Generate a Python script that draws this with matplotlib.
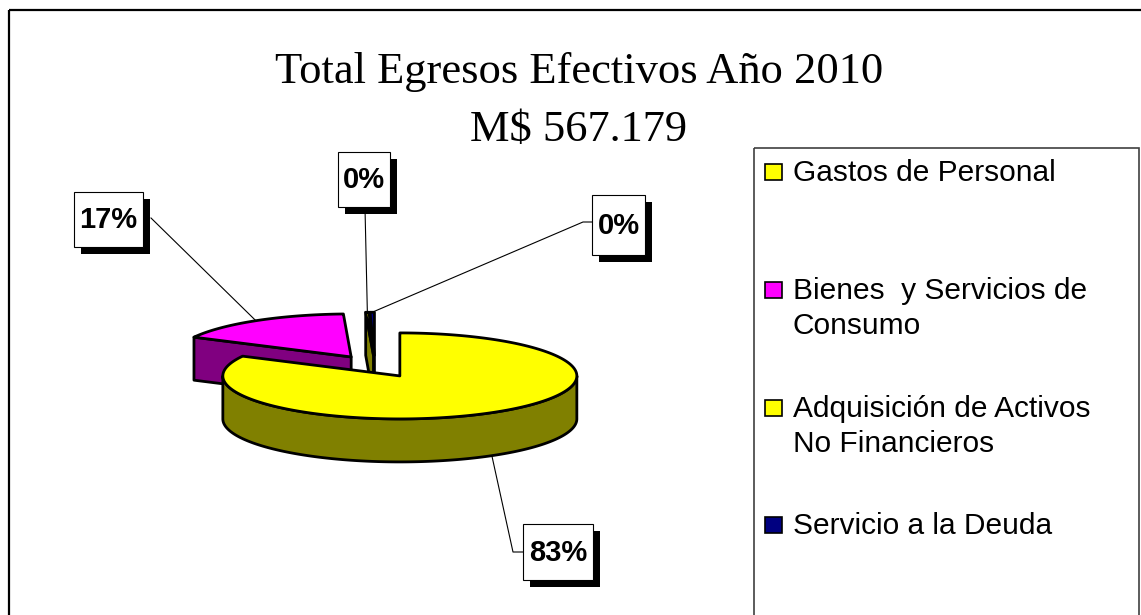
import numpy as np
import matplotlib
matplotlib.use("Agg")
import matplotlib.pyplot as plt
from matplotlib.patches import Polygon, Rectangle

# ---------------- data ----------------
categories = ["Gastos de Personal",
              "Bienes  y Servicios de\nConsumo",
              "Adquisición de Activos\nNo Financieros",
              "Servicio a la Deuda"]
values = [82.6, 16.7, 0.3, 0.4]          # share of total expenses, %
title_lines = ["Total Egresos Efectivos Año 2010", "M$ 567.179"]

# ---------------- style ----------------
top_colors = ["#FFFF00", "#FF00FF", "#FFFF00", "#000080"]
side_colors = ["#808000", "#800080", "#808000", "#000040"]
explode = [0.27, 0.25, 0.25, 0.25]

W, H = 1141, 615
fig = plt.figure(figsize=(W / 100, H / 100), dpi=100)
ax = fig.add_axes([0, 0, 1, 1])
ax.set_xlim(0, W)
ax.set_ylim(H, 0)
ax.axis("off")

# outer chart frame (right/bottom edges fall outside the picture)
ax.add_patch(Rectangle((8.5, 9.5), 1300, 800, fill=False, ec="black", lw=1.6))

# title
ax.text(579, 83, title_lines[0], ha="center", va="baseline",
        family="Liberation Serif", fontsize=32)
ax.text(579, 141, title_lines[1], ha="center", va="baseline",
        family="Liberation Serif", fontsize=32)

# ---------------- 3D pie ----------------
CX, CY = 375.0, 366.0   # pie centre (pixels)
A, B = 177.0, 43.0      # ellipse semi-axes
DEPTH = 43.0
EDGE_LW = 2.0

total = float(sum(values))
starts, ends = [], []
ang = 90.0
for v in values:
    starts.append(ang)
    ang -= 360.0 * v / total
    ends.append(ang)


def pt(cx, cy, th):
    r = np.radians(th)
    return cx + A * np.cos(r), cy - B * np.sin(r)


def arc(cx, cy, t1, t2, n=None):
    if n is None:
        n = max(3, int(abs(t1 - t2)) * 2)
    th = np.radians(np.linspace(t1, t2, n))
    return cx + A * np.cos(th), cy - B * np.sin(th)


slices = []
for i in range(len(values)):
    t1, t2 = starts[i], ends[i]
    mid = 0.5 * (t1 + t2)
    dx = explode[i] * A * np.cos(np.radians(mid))
    dy = -explode[i] * B * np.sin(np.radians(mid))
    slices.append((i, t1, t2, mid, CX + dx, CY + dy))

# draw back-to-front
label_anchor = {}
for (i, t1, t2, mid, ax0, ay0) in sorted(slices, key=lambda s: s[5]):
    kw = dict(ec="black", lw=EDGE_LW, joinstyle="round")
    # radial faces
    if np.cos(np.radians(t1)) < 0:
        ox, oy = pt(ax0, ay0, t1)
        ax.add_patch(Polygon([(ax0, ay0), (ox, oy), (ox, oy + DEPTH), (ax0, ay0 + DEPTH)],
                             closed=True, fc=side_colors[i], **kw))
    if np.cos(np.radians(t2)) > 0:
        ox, oy = pt(ax0, ay0, t2)
        ax.add_patch(Polygon([(ax0, ay0), (ox, oy), (ox, oy + DEPTH), (ax0, ay0 + DEPTH)],
                             closed=True, fc=side_colors[i], **kw))
    # outer wall (front half only)
    for k in range(-2, 2):
        lo, hi = 180 + 360 * k, 360 + 360 * k
        a1, a2 = min(t1, hi), max(t2, lo)
        if a1 > a2:
            xs, ys = arc(ax0, ay0, a1, a2)
            poly = list(zip(xs, ys)) + list(zip(xs[::-1], ys[::-1] + DEPTH))
            ax.add_patch(Polygon(poly, closed=True, fc=side_colors[i], **kw))
    # top face
    xs, ys = arc(ax0, ay0, t1, t2)
    poly = [(ax0, ay0)] + list(zip(xs, ys))
    ax.add_patch(Polygon(poly, closed=True, fc=top_colors[i], **kw))
    mx, my = pt(ax0, ay0, mid)
    if np.sin(np.radians(mid)) < 0:
        my += DEPTH
    label_anchor[i] = (mx, my)

# ---------------- data labels ----------------
pct = [f"{round(100 * v / total):.0f}%" for v in values]
# box (x0, y0, x1, y1) and leader path start points (layout)
label_boxes = {0: (523, 524, 593, 580), 1: (74, 192, 143, 247),
               2: (338, 152, 390, 207), 3: (592, 195, 645, 255)}
leader_start = {0: [(523, 552), (513, 552)], 1: [(151, 218)],
                2: [(365, 208)], 3: [(592, 222), (583, 222)]}
SH = 7
for i in range(len(values)):
    x0, y0, x1, y1 = label_boxes[i]
    path = leader_start[i] + [label_anchor[i]]
    px, py = zip(*path)
    ax.plot(px, py, color="black", lw=0.8, zorder=3)
    ax.add_patch(Rectangle((x0 + SH, y0 + SH), x1 - x0, y1 - y0, fc="black",
                           ec="none", zorder=4))
    ax.add_patch(Rectangle((x0, y0), x1 - x0, y1 - y0, fc="white", ec="black",
                           lw=0.8, zorder=5))
    ax.text((x0 + x1) / 2, (y0 + y1) / 2 + 1, pct[i], ha="center", va="center",
            family="Liberation Sans", fontweight="bold", fontsize=21, zorder=6)

# ---------------- legend ----------------
ax.add_patch(Rectangle((753.5, 147.5), 385, 600, fill=False, ec="#404040", lw=1.2))
leg_y = [170, 288, 406, 523]
LINE_H = 35
for i, name in enumerate(categories):
    ax.add_patch(Rectangle((765, leg_y[i] - 6), 17, 16, fc=top_colors[i],
                           ec="black", lw=1.2))
    for j, line in enumerate(name.split("\n")):
        ax.text(793, leg_y[i] + j * LINE_H, line, ha="left", va="center_baseline",
                family="Liberation Sans", fontsize=21.5)

fig.savefig("out.png", dpi=100)
